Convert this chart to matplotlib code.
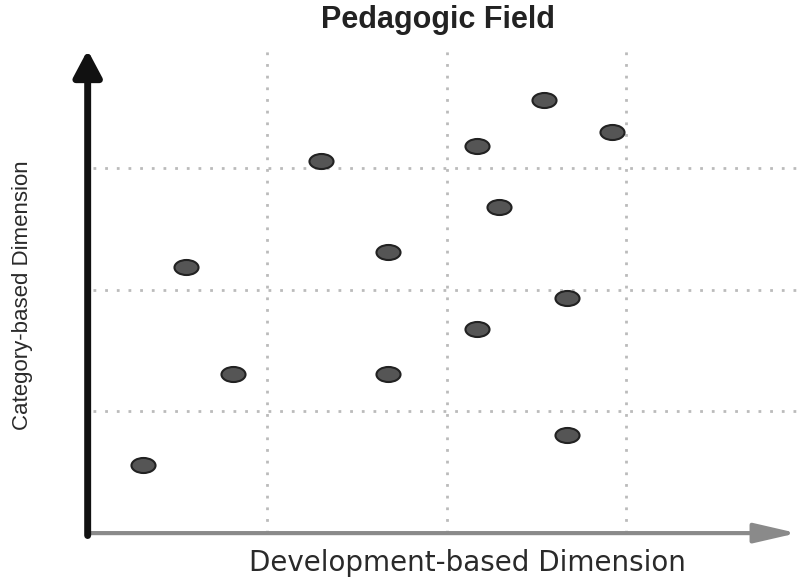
import numpy as np
import matplotlib
matplotlib.use('Agg')
import matplotlib.pyplot as plt
from matplotlib.path import Path
from matplotlib.transforms import Affine2D

# data (grid units)
dev_x = [0.31, 0.55, 0.81, 1.30, 1.67, 1.67, 2.17, 2.17, 2.29, 2.54, 2.67, 2.67, 2.92]
cat_y = [0.56, 2.19, 1.31, 3.06, 2.31, 1.31, 3.18, 1.68, 2.68, 3.56, 1.93, 0.81, 3.30]
grid_pos = [1, 2, 3]

title = 'Pedagogic Field'
x_label = 'Development-based Dimension'
y_label = 'Category-based Dimension'

plt.rcParams['font.family'] = ['Liberation Sans', 'DejaVu Sans']

fig = plt.figure(figsize=(7.97, 5.82), dpi=100)
ax = fig.add_axes([0.110, 0.084, 0.89, 0.83])
ax.set_xlim(0, 3.95)
ax.set_ylim(0, 3.97)
for s in ax.spines.values():
    s.set_visible(False)
ax.set_xticks([])
ax.set_yticks([])

# dotted grid
ax.vlines(grid_pos, 0, 3.97, colors='#bbbbbb', linestyles=(0, (1, 3.2)), linewidth=2)
ax.hlines(grid_pos, 0.03, 3.95, colors='#bbbbbb', linestyles=(0, (1, 3.2)), linewidth=2)

# axis arrows
ax.annotate('', xy=(1.0, 0), xytext=(0, 0), xycoords='axes fraction',
            arrowprops=dict(arrowstyle='-|>,head_length=2.6,head_width=0.6',
                            color='#8a8a8a', lw=3, shrinkA=0, shrinkB=0))
ax.annotate('', xy=(0, 1.0), xytext=(0, -0.005), xycoords='axes fraction',
            arrowprops=dict(arrowstyle='-|>,head_length=1.6,head_width=0.85',
                            color='#111111', lw=5, shrinkA=0, shrinkB=0))

# elliptic markers
ell = Path.unit_circle().transformed(Affine2D().scale(1.6, 1.0))
ax.scatter(dev_x, cat_y, marker=ell, s=300, c='#555555', edgecolors='#222222',
           linewidths=1.5, zorder=3, clip_on=False)

fig.text(0.55, 0.965, title, ha='center', va='center', fontsize=22, fontweight='bold', color='#222222')
fig.text(0.586, 0.032, x_label, ha='center', va='center', fontsize=20,
         family='DejaVu Sans', color='#2a2a2a')
fig.text(0.028, 0.493, y_label, ha='center', va='center', rotation=90, fontsize=16, color='#2a2a2a')

fig.savefig('out.png', dpi=100)
